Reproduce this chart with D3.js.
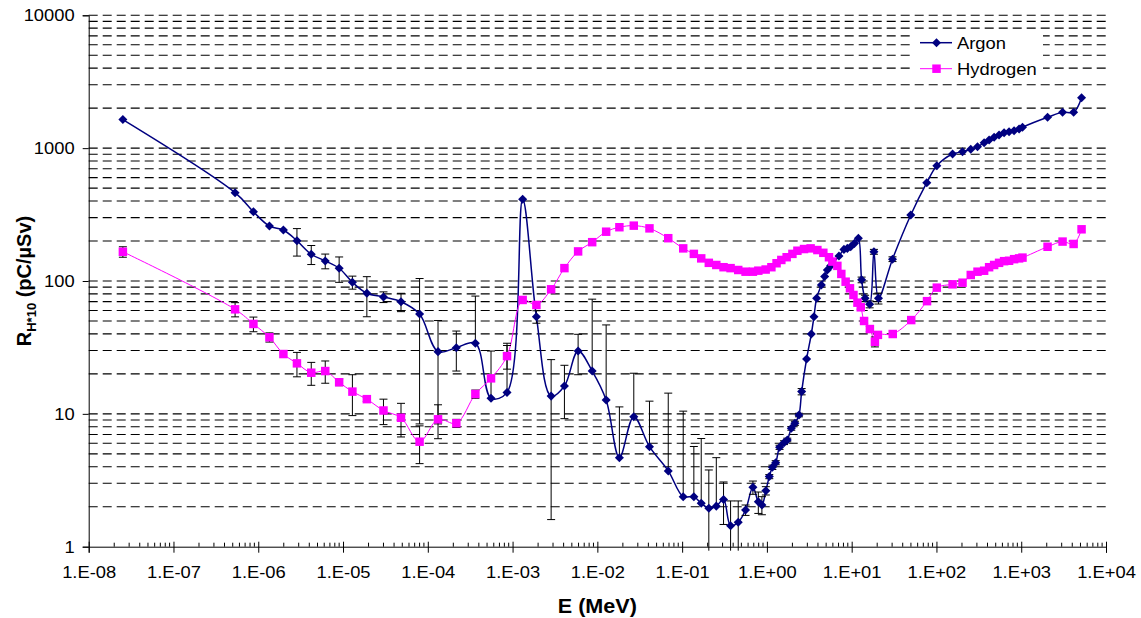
<!DOCTYPE html>
<html>
<head>
<meta charset="utf-8">
<script src="https://cdn.jsdelivr.net/npm/d3@7"></script>
<style>
body{margin:0;background:#fff}
text{font-family:"Liberation Sans",Arial,sans-serif;fill:#000}
</style>
</head>
<body>
<svg id="chart" width="1141" height="618"></svg>
<script>
// values (E in MeV, R in pC/uSv, err = +/- absolute)
const argonE = [2.53e-8,5.33e-7,8.77e-7,1.355e-6,1.98e-6,2.86e-6,4.22e-6,6.17e-6,9.0e-6,1.29e-5,1.91e-5,3.0e-5,4.83e-5,8.0e-5,1.32e-4,2.17e-4,3.64e-4,5.57e-4,8.6e-4,1.315e-3,1.91e-3,2.85e-3,4.09e-3,5.93e-3,8.69e-3,1.27e-2,1.82e-2,2.69e-2,4.12e-2,6.86e-2,0.103,0.1375,0.168,0.2065,0.253,0.308,0.373,0.459,0.56,0.684,0.792,0.873,0.972,1.067,1.16,1.27,1.41,1.59,1.74,1.94,2.14,2.39,2.57,2.94,3.34,3.59,3.86,4.39,4.80,5.16,5.65,7.08,8.11,8.89,9.73,10.8,12.0,13.1,14.4,16.3,18.3,20.7,30.3,49.8,76.9,101,155,203,254,305,365,418,479,548,628,719,824,944,1035,2045,3074,4150,5150];
const argonR = [1640,462,332,259,242,201,159,141.5,124.7,97.8,80.8,75.8,69.8,56.4,29.4,31.5,34,13.1,14.5,412,53.9,13.6,16.2,29.7,21,12.7,4.68,9.52,5.66,3.72,2.38,2.38,2.12,1.95,2.02,2.27,1.44,1.53,1.89,2.8,2.18,2.06,2.64,3.37,3.96,4.29,5.6,6.07,6.36,7.78,8.49,9.8,14.7,25.9,39.9,53.9,74.1,93.3,108,121,130,154,173,176,181,192,210,102,74.1,66.8,166,74.1,146,314,550,738,903,940,980,1026,1099,1151,1207,1256,1307,1330,1353,1393,1436,1707,1862,1862,2398];
const argonErr = [0,0,0,0,0,47,26,18,27,11,27,7,11,48,21,10.5,43,16.6,19.5,0,5.8,12,7,10,52,34,6.6,10.7,6.8,10.6,8.1,3.3,4.4,1.83,2.66,0.8,0.77,0.68,0.17,0.32,0.4,0.32,0.19,0.12,0.15,0.15,0.2,0.2,0.2,0.25,0.3,0.3,0.8,0,0,0,0,0,0,0,0,0,0,0,0,0,0,5,4,4,7,7,6,0,0,0,0,0,0,0,0,0,0,0,0,0,0,0,0,0,0,0,0];

const hydrogenE = [2.53e-8,5.33e-7,8.77e-7,1.355e-6,1.98e-6,2.86e-6,4.22e-6,6.17e-6,9.0e-6,1.29e-5,1.91e-5,3.0e-5,4.83e-5,8.0e-5,1.32e-4,2.17e-4,3.64e-4,5.57e-4,8.6e-4,1.315e-3,1.91e-3,2.85e-3,4.09e-3,5.93e-3,8.69e-3,1.27e-2,1.82e-2,2.69e-2,4.12e-2,6.86e-2,0.103,0.1375,0.168,0.2065,0.253,0.308,0.373,0.459,0.56,0.684,0.792,0.967,1.13,1.30,1.48,1.71,2.0,2.29,2.74,3.28,3.94,4.63,5.40,5.92,6.78,7.55,8.49,9.55,10.5,11.7,12.8,14.0,16.4,18.8,20.4,30.5,50.4,77.4,101,155,203,254,305,365,418,479,548,628,719,824,944,1035,2045,3074,4150,5150];
const hydrogenR = [166,61.2,47.5,37.7,28.2,24,20.4,21,17.3,14.7,12.9,10.6,9.35,6.17,9.1,8.49,14.1,18.5,27.2,72,66,86.6,125,167,196,235,254,261,249,210,176,160,148,137,132,127,125,121,117.5,117.5,119.6,122,127,136,144,151,160,169,174,176,171,163,151,140,130,113,98.8,88.1,78.5,68.7,63.4,50,43.5,34.9,39.3,39.9,50.8,70.5,89.1,94.4,97.1,111,117.5,119.5,127,132,137,141,142,146,148,150,181,198,190,245];
const hydrogenErr = [15,7.5,6,3,0,5,4,4,1,5,0.5,2.3,2.65,1.95,2.6,0.6,1,0,5.5,0,0,0,0,0,0,0,0,0,0,0,0,0,0,0,0,0,0,0,0,0,0,0,0,0,0,0,0,0,0,0,0,0,0,0,0,0,0,0,0,0,2,2,2,3,0,0,0,0,0,0,0,0,0,0,0,0,0,0,0,0,0,0,0,0,0,0];

const xTickValues = [1e-8,1e-7,1e-6,1e-5,1e-4,1e-3,1e-2,1e-1,1e0,1e1,1e2,1e3,1e4];
const xTickLabels = ["1.E-08","1.E-07","1.E-06","1.E-05","1.E-04","1.E-03","1.E-02","1.E-01","1.E+00","1.E+01","1.E+02","1.E+03","1.E+04"];
const yTickValues = [1,10,100,1000,10000];
const yTickLabels = ["1","10","100","1000","10000"];
const seriesNames = ["Argon","Hydrogen"];

const navy = "#000080", magenta = "#ff00ff";

const svg = d3.select("#chart");
const x = d3.scaleLog().domain([1e-8,1e4]).range([88.7,1106]);
const y = d3.scaleLog().domain([1,1e4]).range([546.7,15.3]);

// dashed horizontal grid at every major and minor value
svg.append("g")
  .selectAll("line")
  .data(y.ticks().filter(v => v > 1))
  .join("line")
  .attr("x1", x.range()[0]).attr("x2", x.range()[1])
  .attr("y1", d => y(d)).attr("y2", d => y(d))
  .attr("stroke", "#000").attr("stroke-width", 1.1)
  .attr("stroke-dasharray", "9,5");

// y axis
const gy = svg.append("g").attr("transform", `translate(${x.range()[0]},0)`)
  .call(d3.axisLeft(y).tickValues(yTickValues).tickFormat((d,i) => yTickLabels[i]).tickSizeOuter(0).tickSize(6));
gy.select(".domain").attr("stroke", "#000");
gy.selectAll("text").attr("font-size", 17).attr("x", -13).attr("transform", "scale(1.08,1)")
  .style("font-family", "'Liberation Sans',Arial,sans-serif");

// x axis
const gx = svg.append("g").attr("transform", `translate(0,${y.range()[0]})`)
  .call(d3.axisBottom(x).tickValues(xTickValues).tickFormat((d,i) => xTickLabels[i]).tickSizeOuter(0).tickSize(6));
gx.selectAll(".tick line").attr("y1", -5).attr("y2", 6);
gx.selectAll("text").attr("font-size", 17).attr("y", 31.5).attr("dy", 0).attr("transform", "scale(1.08,1)")
  .style("font-family", "'Liberation Sans',Arial,sans-serif");
gx.append("g").selectAll("line")
  .data(x.ticks(30).filter(v => !xTickValues.some(t => Math.abs(t - v) / t < 1e-6)))
  .join("line")
  .attr("x1", d => x(d)).attr("x2", d => x(d))
  .attr("y1", -4).attr("y2", 0).attr("stroke", "#000");

// axis titles
svg.append("text")
  .attr("transform", `translate(${(x.range()[0]+x.range()[1])/2},613) scale(1.08,1)`)
  .attr("text-anchor", "middle").attr("font-size", 20).attr("font-weight", "bold")
  .text("E (MeV)");
const yt = svg.append("text")
  .attr("transform", `translate(31,${(y.range()[0]+y.range()[1])/2}) rotate(-90)`)
  .attr("text-anchor", "middle").attr("font-size", 20).attr("font-weight", "bold");
yt.append("tspan").text("R");
yt.append("tspan").attr("font-size", 13).attr("dy", 5).text("H*10");
yt.append("tspan").attr("dy", -5).text(" (pC/\u00b5Sv)");

const series = [
  {name: seriesNames[0], E: argonE, R: argonR, err: argonErr, color: navy, width: 1.5, shape: d3.symbolDiamond2, size: 52},
  {name: seriesNames[1], E: hydrogenE, R: hydrogenR, err: hydrogenErr, color: magenta, width: 1, shape: d3.symbolSquare, size: 72}
];

const line = d3.line().x(d => x(d[0])).y(d => y(d[1])).curve(d3.curveCatmullRom.alpha(0.5));

series.forEach(s => {
  const pts = s.E.map((e,i) => [e, s.R[i]]);
  svg.append("path").datum(pts)
    .attr("d", line).attr("fill", "none")
    .attr("stroke", s.color).attr("stroke-width", s.width);
});

// error bars (symmetric in value, lower part left out when it would be <= 0)
const bars = [];
series.forEach(s => s.E.forEach((e,i) => { if (s.err[i] > 0) bars.push({e: e, r: s.R[i], err: s.err[i]}); }));
const bottom = y.range()[0];
const gb = svg.append("g").attr("stroke", "#000").attr("stroke-width", 1);
bars.forEach(b => {
  const cx = x(b.e);
  const yt = y(b.r + b.err);
  const lo = b.r - b.err;
  const yb = lo > 0 ? Math.min(y(lo), bottom + 4) : y(b.r);
  gb.append("line").attr("x1", cx).attr("x2", cx).attr("y1", yt).attr("y2", yb);
  gb.append("line").attr("x1", cx - 4).attr("x2", cx + 4).attr("y1", yt).attr("y2", yt);
  if (lo >= 1) gb.append("line").attr("x1", cx - 4).attr("x2", cx + 4).attr("y1", yb).attr("y2", yb);
});

series.forEach(s => {
  svg.append("g").selectAll("path")
    .data(s.E.map((e,i) => [e, s.R[i]]))
    .join("path")
    .attr("transform", d => `translate(${x(d[0])},${y(d[1])})`)
    .attr("d", d3.symbol(s.shape, s.size))
    .attr("fill", s.color);
});

// legend
const lg = svg.append("g");
lg.append("rect").attr("x", 910).attr("y", 29).attr("width", 133).attr("height", 51).attr("fill", "#fff");
series.forEach((s,i) => {
  const ly = 42.7 + i * 26;
  lg.append("line").attr("x1", 920).attr("x2", 952).attr("y1", ly).attr("y2", ly)
    .attr("stroke", s.color).attr("stroke-width", s.width);
  lg.append("path")
    .attr("transform", `translate(936.5,${ly})`)
    .attr("d", d3.symbol(s.shape, s.size)).attr("fill", s.color);
  lg.append("text").attr("transform", `translate(957,${ly + 6}) scale(1.08,1)`)
    .attr("font-size", 17).text(s.name);
});
</script>
</body>
</html>
